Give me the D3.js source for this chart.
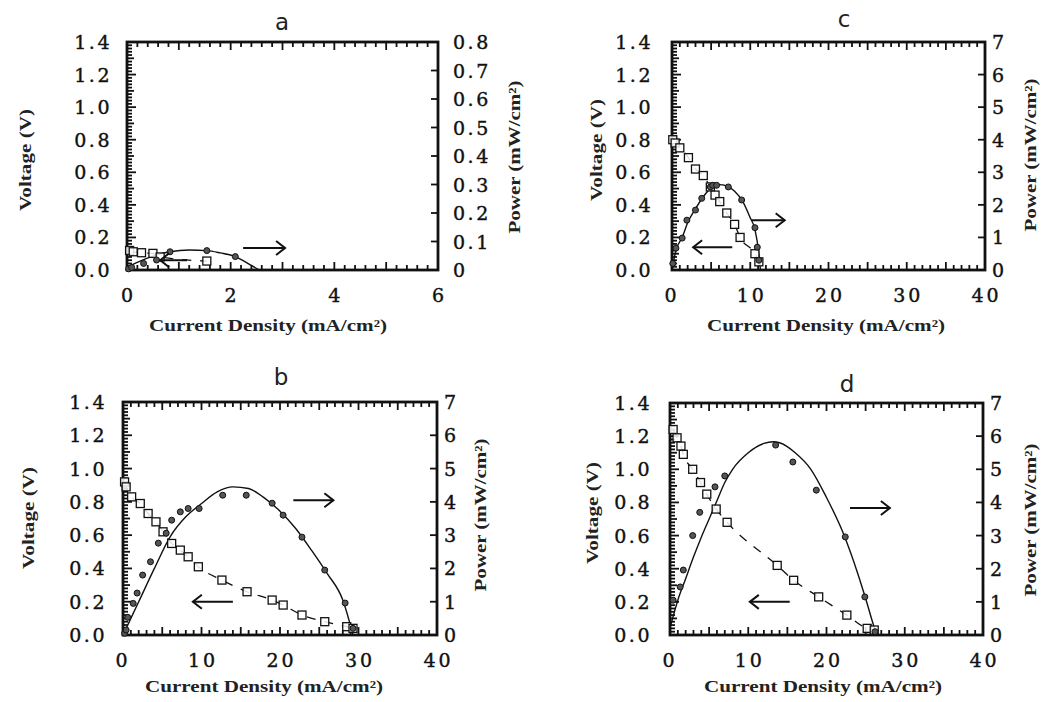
<!DOCTYPE html>
<html>
<head>
<meta charset="utf-8">
<script src="https://cdn.jsdelivr.net/npm/d3@7"></script>
<style>
body { margin: 0; background: #fff; }
</style>
</head>
<body>
<svg id="chart" width="1042" height="702"></svg>
<script>
// ---- data ----
var voltTicks = [0, 0.2, 0.4, 0.6, 0.8, 1.0, 1.2, 1.4]
var powTicksA = [0, 0.1, 0.2, 0.3, 0.4, 0.5, 0.6, 0.7, 0.8]
var powTicks = [0, 1, 2, 3, 4, 5, 6, 7]
var curTicksA = [0, 2, 4, 6]
var curTicks = [0, 10, 20, 30, 40]

// panel a
var aSqI = [0.05, 0.12, 0.28, 0.5, 0.64, 1.54]
var aSqV = [0.12, 0.112, 0.106, 0.102, 0.08, 0.055]
var aCirI = [0.03, 0.09, 0.32, 0.57, 0.83, 1.54, 2.09]
var aCirP = [0.004, 0.009, 0.023, 0.035, 0.064, 0.068, 0.047]
var aFitI = [0, 0.3, 0.6, 0.83, 1.2, 1.54, 1.8, 2.09, 2.38, 2.55]
var aFitP = [0.01, 0.035, 0.055, 0.064, 0.07, 0.068, 0.06, 0.047, 0.018, 0]

// panel b
var bSqI = [0.2, 0.4, 1.1, 2.2, 3.2, 4.2, 5.1, 6.2, 7.3, 8.3, 9.6, 12.6, 15.8, 19.0, 20.4, 22.8, 25.7, 28.5, 29.3]
var bSqV = [0.92, 0.89, 0.83, 0.79, 0.73, 0.68, 0.62, 0.55, 0.51, 0.47, 0.41, 0.33, 0.26, 0.21, 0.18, 0.12, 0.08, 0.05, 0.04]
var bCirI = [0.2, 0.4, 0.6, 1.3, 1.8, 2.5, 3.5, 4.5, 5.5, 6.2, 7.3, 8.3, 9.7, 12.7, 15.7, 19.0, 20.4, 22.8, 25.7, 28.3, 29.3]
var bCirP = [0.05, 0.15, 0.53, 0.95, 1.26, 1.8, 2.2, 2.76, 3.06, 3.45, 3.7, 3.8, 3.8, 4.2, 4.2, 3.96, 3.6, 2.94, 1.95, 0.96, 0.2]
var bFitI = [0, 1, 2, 4, 6, 8, 10, 12, 14, 16, 18, 20, 22, 24, 26, 28, 29.3]
var bFitP = [0, 0.5, 1.0, 2.0, 2.95, 3.55, 3.95, 4.3, 4.45, 4.4, 4.12, 3.72, 3.2, 2.55, 1.85, 1.05, 0]

// panel c
var cSqI = [0.1, 0.4, 1.0, 2.1, 3.0, 4.0, 4.9, 5.5, 6.1, 7.0, 8.0, 8.7, 10.6, 11.1]
var cSqV = [0.80, 0.78, 0.75, 0.69, 0.62, 0.58, 0.51, 0.46, 0.42, 0.35, 0.28, 0.20, 0.10, 0.05]
var cCirI = [0.1, 0.5, 1.3, 1.9, 3.0, 3.8, 4.9, 5.2, 5.7, 7.2, 8.9, 10.6, 10.9, 11.1]
var cCirP = [0.2, 0.67, 0.98, 1.53, 1.84, 2.2, 2.55, 2.6, 2.6, 2.55, 2.15, 1.3, 0.7, 0.3]
var cFitI = [0, 0.5, 1.3, 2, 3, 4, 5, 6, 7, 8, 9, 10, 10.6, 11.1, 11.3]
var cFitP = [0, 0.6, 1.0, 1.45, 1.88, 2.25, 2.52, 2.62, 2.58, 2.42, 2.12, 1.6, 1.25, 0.5, 0]

// panel d
var dSqI = [0.4, 0.9, 1.4, 1.7, 2.9, 3.9, 4.7, 5.9, 7.3, 13.7, 15.8, 19.0, 22.6, 25.2, 26.1]
var dSqV = [1.24, 1.19, 1.14, 1.09, 1.0, 0.92, 0.85, 0.76, 0.68, 0.42, 0.33, 0.23, 0.12, 0.04, 0.03]
var dCirI = [0.4, 1.3, 1.7, 2.9, 3.8, 5.75, 7.0, 13.5, 15.7, 18.7, 22.4, 24.9, 26.2]
var dCirP = [1.05, 1.45, 1.96, 3.0, 3.7, 4.47, 4.8, 5.73, 5.22, 4.37, 2.96, 1.15, 0.1]
var dFitI = [0.1, 1, 2, 3, 4, 5, 6, 7, 8, 10, 12, 13.2, 14, 16, 18, 20, 22, 24, 25, 26, 26.4]
var dFitP = [0.3, 1.05, 1.7, 2.35, 2.95, 3.5, 4.05, 4.6, 5.0, 5.5, 5.78, 5.83, 5.8, 5.5, 5.0, 4.15, 3.15, 1.85, 1.1, 0.3, 0]

// ---- layout of the four panels ----
var panels = [
  { name: 'a', l: 127, r: 438, t: 42, b: 270, xMax: 6, pMax: 0.8, xTicks: curTicksA, pTicks: powTicksA,
    xMinor: 0.2, title: [282, 30], vLab: [25, 160], pLab: [514, 157], xLab: [268, 331], rOff: 15, lOff: 15,
    sqI: aSqI, sqV: aSqV, cirI: aCirI, cirP: aCirP, fitI: aFitI, fitP: aFitP,
    arrowP: [2.24, 3.05, 0.077], arrowV: [1.16, 0.64, 0.06] },
  { name: 'b', l: 123, r: 437, t: 402, b: 635, xMax: 40, pMax: 7, xTicks: curTicks, pTicks: powTicks,
    xMinor: 1, title: [281, 385], vLab: [28, 518], pLab: [480, 515], xLab: [264, 692], rOff: 7, lOff: 16,
    sqI: bSqI, sqV: bSqV, cirI: bCirI, cirP: bCirP, fitI: bFitI, fitP: bFitP,
    arrowP: [21.7, 26.8, 4.05], arrowV: [14.0, 8.9, 0.2] },
  { name: 'c', l: 672, r: 985, t: 42, b: 270, xMax: 40, pMax: 7, xTicks: curTicks, pTicks: powTicks,
    xMinor: 1, title: [844, 27], vLab: [596, 150], pLab: [1030, 155], xLab: [826, 331], rOff: 7, lOff: 19,
    sqI: cSqI, sqV: cSqV, cirI: cCirI, cirP: cCirP, fitI: cFitI, fitP: cFitP,
    arrowP: [10.2, 14.4, 1.53], arrowV: [7.7, 2.7, 0.14] },
  { name: 'd', l: 670, r: 983, t: 403, b: 635, xMax: 40, pMax: 7, xTicks: curTicks, pTicks: powTicks,
    xMinor: 1, title: [847, 392], vLab: [592, 513], pLab: [1030, 520], xLab: [823, 692], rOff: 7, lOff: 18,
    sqI: dSqI, sqV: dSqV, cirI: dCirI, cirP: dCirP, fitI: dFitI, fitP: dFitP,
    arrowP: [23.0, 28.1, 3.83], arrowV: [15.3, 10.2, 0.2] }
]

var svg = d3.select('#chart')
var serif = "'DejaVu Serif', 'Liberation Serif', serif"
var labelFont = "'Liberation Serif', 'Times New Roman', serif"

function zip(xs, ys) {
  return xs.map(function (x, i) { return [x, ys[i]] })
}

function arrow(g, x1, x2, y) {
  var dir = x2 > x1 ? 1 : -1
  g.append('line').attr('x1', x1).attr('x2', x2).attr('y1', y).attr('y2', y)
    .attr('stroke', '#111').attr('stroke-width', 2)
  g.append('path')
    .attr('d', 'M' + (x2 - dir * 9) + ',' + (y - 7) + 'L' + x2 + ',' + y + 'L' + (x2 - dir * 9) + ',' + (y + 7))
    .attr('fill', 'none').attr('stroke', '#111').attr('stroke-width', 2)
}

function tick(g, x1, y1, x2, y2) {
  g.append('line').attr('x1', x1).attr('y1', y1).attr('x2', x2).attr('y2', y2)
    .attr('stroke', '#111').attr('stroke-width', 1.8)
}

function drawPanel(p) {
  var g = svg.append('g')
  var x = d3.scaleLinear().domain([0, p.xMax]).range([p.l, p.r])
  var yV = d3.scaleLinear().domain([0, 1.4]).range([p.b, p.t])
  var yP = d3.scaleLinear().domain([0, p.pMax]).range([p.b, p.t])

  // dense inward ticks on left, top and bottom, major only on the right
  var ticks = g.append('g')
  d3.range(0, 71).forEach(function (i) {
    var yy = yV(i * 0.02)
    var len = i % 10 == 0 ? 9 : (i % 5 == 0 ? 7 : 5)
    tick(ticks, p.l, yy, p.l + len, yy)
  })
  var nX = Math.round(p.xMax / p.xMinor)
  d3.range(0, nX + 1).forEach(function (i) {
    var xx = x(i * p.xMinor)
    var len = i % 5 == 0 ? 8 : 5
    tick(ticks, xx, p.b, xx, p.b - len)
    tick(ticks, xx, p.t, xx, p.t + len)
  })
  p.pTicks.forEach(function (v) {
    tick(ticks, p.r, yP(v), p.r - 7, yP(v))
  })

  // frame
  g.append('rect').attr('x', p.l).attr('y', p.t).attr('width', p.r - p.l).attr('height', p.b - p.t)
    .attr('fill', 'none').attr('stroke', '#111').attr('stroke-width', 2.8)

  // tick labels
  var fmtV = d3.format('.1f')
  g.selectAll('.vt').data(voltTicks).enter().append('text')
    .attr('x', p.l - p.lOff).attr('y', function (d) { return yV(d) + 7 })
    .attr('text-anchor', 'end').attr('font-family', serif).attr('font-size', 19)
    .attr('letter-spacing', 2.5).attr('fill', '#111').attr('stroke', '#111').attr('stroke-width', 0.4)
    .text(function (d) { return fmtV(d) })
  g.selectAll('.pt').data(p.pTicks).enter().append('text')
    .attr('x', p.r + p.rOff).attr('y', function (d) { return yP(d) + 7 })
    .attr('font-family', serif).attr('font-size', 19).attr('letter-spacing', 2.5)
    .attr('fill', '#111').attr('stroke', '#111').attr('stroke-width', 0.4)
    .text(function (d) { return d == 0 ? '0' : (p.pMax < 1 ? d3.format('.1f')(d) : d) })
  g.selectAll('.xt').data(p.xTicks).enter().append('text')
    .attr('x', function (d) { return x(d) + (d >= 10 ? 1.5 : 0) }).attr('y', p.b + 32)
    .attr('text-anchor', 'middle').attr('font-family', serif).attr('font-size', 19)
    .attr('letter-spacing', d3.max(p.xTicks) >= 10 ? 3 : 0)
    .attr('fill', '#111').attr('stroke', '#111').attr('stroke-width', 0.4)
    .text(function (d) { return d })

  // axis titles
  g.append('text').attr('transform', 'translate(' + p.vLab[0] + ',' + p.vLab[1] + ') rotate(-90)')
    .attr('text-anchor', 'middle').attr('dy', 6).attr('font-family', labelFont).attr('font-weight', 'bold')
    .attr('font-size', 16).attr('fill', '#222').attr('textLength', 102).attr('lengthAdjust', 'spacingAndGlyphs')
    .text('Voltage (V)')
  g.append('text').attr('transform', 'translate(' + p.pLab[0] + ',' + p.pLab[1] + ') rotate(-90)')
    .attr('text-anchor', 'middle').attr('dy', 6).attr('font-family', labelFont).attr('font-weight', 'bold')
    .attr('font-size', 16).attr('fill', '#222').attr('textLength', 153).attr('lengthAdjust', 'spacingAndGlyphs')
    .text('Power (mW/cm²)')
  g.append('text').attr('x', p.xLab[0]).attr('y', p.xLab[1])
    .attr('text-anchor', 'middle').attr('font-family', labelFont).attr('font-weight', 'bold')
    .attr('font-size', 16).attr('fill', '#222').attr('textLength', 238).attr('lengthAdjust', 'spacingAndGlyphs')
    .text('Current Density (mA/cm²)')
  g.append('text').attr('x', p.title[0]).attr('y', p.title[1]).attr('text-anchor', 'middle')
    .attr('font-family', "'DejaVu Sans', sans-serif").attr('font-size', 23).attr('fill', '#222')
    .text(p.name)

  // voltage curve (dashed) and squares
  var lineV = d3.line().x(function (d) { return x(d[0]) }).y(function (d) { return yV(d[1]) })
    .curve(d3.curveMonotoneX)
  g.append('path').attr('d', lineV(zip(p.sqI, p.sqV))).attr('fill', 'none')
    .attr('stroke', '#111').attr('stroke-width', 1.3).attr('stroke-dasharray', '9,9')

  // power fit (solid)
  var lineP = d3.line().x(function (d) { return x(d[0]) }).y(function (d) { return yP(d[1]) })
    .curve(d3.curveMonotoneX)
  g.append('path').attr('d', lineP(zip(p.fitI, p.fitP))).attr('fill', 'none')
    .attr('stroke', '#111').attr('stroke-width', 1.4)

  g.selectAll('.sq').data(zip(p.sqI, p.sqV)).enter().append('rect')
    .attr('x', function (d) { return x(d[0]) - 4 }).attr('y', function (d) { return yV(d[1]) - 4 })
    .attr('width', 8).attr('height', 8).attr('fill', '#fff').attr('fill-opacity', 0.85)
    .attr('stroke', '#111').attr('stroke-width', 1.3)
  g.selectAll('.ci').data(zip(p.cirI, p.cirP)).enter().append('circle')
    .attr('cx', function (d) { return x(d[0]) }).attr('cy', function (d) { return yP(d[1]) })
    .attr('r', 3).attr('fill', '#555').attr('stroke', '#111').attr('stroke-width', 1)

  // arrows pointing to the axis each curve belongs to
  arrow(g, x(p.arrowP[0]), x(p.arrowP[1]), yP(p.arrowP[2]))
  arrow(g, x(p.arrowV[0]), x(p.arrowV[1]), yV(p.arrowV[2]))
}

panels.forEach(drawPanel)
</script>
</body>
</html>
